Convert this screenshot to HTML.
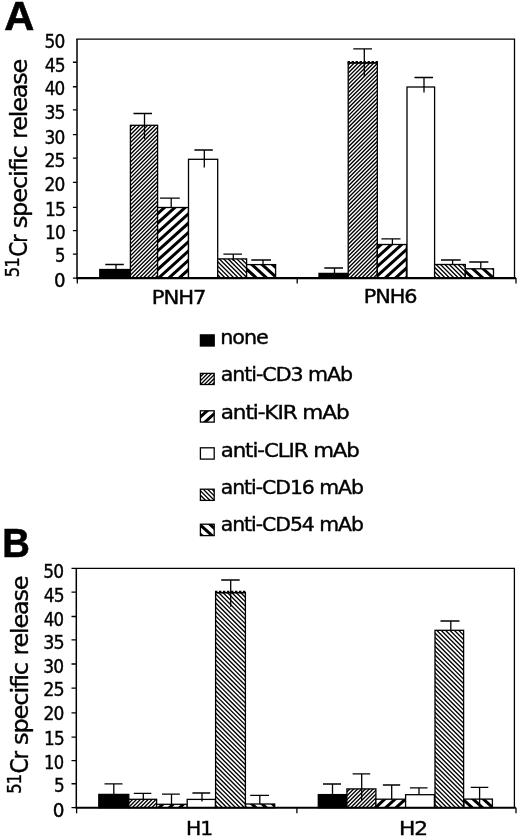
<!DOCTYPE html>
<html lang="en"><head><meta charset="utf-8"><title>Figure</title><style>html,body{margin:0;padding:0;background:#fff}svg{display:block}text{fill:#000}</style></head><body><svg width="520" height="839" viewBox="0 0 520 839"><rect width="520" height="839" fill="#fff"/><defs><clipPath id="c0"><rect x="130.40" y="125.30" width="27.20" height="152.80"/></clipPath><clipPath id="c1"><rect x="157.60" y="207.50" width="30.90" height="70.60"/></clipPath><clipPath id="c2"><rect x="217.70" y="258.90" width="28.90" height="19.20"/></clipPath><clipPath id="c3"><rect x="246.60" y="264.60" width="29.00" height="13.50"/></clipPath><clipPath id="c4"><rect x="348.20" y="62.70" width="29.10" height="215.40"/></clipPath><clipPath id="c5"><rect x="377.30" y="244.50" width="29.10" height="33.60"/></clipPath><clipPath id="c6"><rect x="434.60" y="264.50" width="30.70" height="13.60"/></clipPath><clipPath id="c7"><rect x="465.30" y="268.80" width="28.20" height="9.30"/></clipPath><clipPath id="c8"><rect x="128.80" y="799.30" width="27.80" height="8.40"/></clipPath><clipPath id="c9"><rect x="156.60" y="804.30" width="30.60" height="3.40"/></clipPath><clipPath id="c10"><rect x="215.60" y="592.50" width="29.80" height="215.20"/></clipPath><clipPath id="c11"><rect x="245.60" y="804.00" width="29.10" height="3.70"/></clipPath><clipPath id="c12"><rect x="346.90" y="788.90" width="29.00" height="18.80"/></clipPath><clipPath id="c13"><rect x="375.90" y="799.20" width="29.70" height="8.50"/></clipPath><clipPath id="c14"><rect x="435.00" y="630.30" width="28.60" height="177.40"/></clipPath><clipPath id="c15"><rect x="464.00" y="799.10" width="28.40" height="8.60"/></clipPath><clipPath id="c16"><rect x="200.40" y="373.40" width="13.80" height="11.10"/></clipPath><clipPath id="c17"><rect x="200.40" y="410.80" width="13.80" height="11.30"/></clipPath><clipPath id="c18"><rect x="200.40" y="489.20" width="13.80" height="11.20"/></clipPath><clipPath id="c19"><rect x="200.40" y="524.20" width="13.80" height="11.40"/></clipPath></defs><rect x="99.80" y="269.50" width="30.60" height="8.60" fill="#000"/><rect x="99.80" y="269.50" width="30.60" height="8.60" fill="none" stroke="#000" stroke-width="1.30"/><rect x="130.40" y="125.30" width="27.20" height="152.80" fill="#fff"/><path clip-path="url(#c0)" d="M128.40 121.20L159.60 90.00M128.40 125.10L159.60 93.90M128.40 129.00L159.60 97.80M128.40 132.90L159.60 101.70M128.40 136.80L159.60 105.60M128.40 140.70L159.60 109.50M128.40 144.60L159.60 113.40M128.40 148.50L159.60 117.30M128.40 152.40L159.60 121.20M128.40 156.30L159.60 125.10M128.40 160.20L159.60 129.00M128.40 164.10L159.60 132.90M128.40 168.00L159.60 136.80M128.40 171.90L159.60 140.70M128.40 175.80L159.60 144.60M128.40 179.70L159.60 148.50M128.40 183.60L159.60 152.40M128.40 187.50L159.60 156.30M128.40 191.40L159.60 160.20M128.40 195.30L159.60 164.10M128.40 199.20L159.60 168.00M128.40 203.10L159.60 171.90M128.40 207.00L159.60 175.80M128.40 210.90L159.60 179.70M128.40 214.80L159.60 183.60M128.40 218.70L159.60 187.50M128.40 222.60L159.60 191.40M128.40 226.50L159.60 195.30M128.40 230.40L159.60 199.20M128.40 234.30L159.60 203.10M128.40 238.20L159.60 207.00M128.40 242.10L159.60 210.90M128.40 246.00L159.60 214.80M128.40 249.90L159.60 218.70M128.40 253.80L159.60 222.60M128.40 257.70L159.60 226.50M128.40 261.60L159.60 230.40M128.40 265.50L159.60 234.30M128.40 269.40L159.60 238.20M128.40 273.30L159.60 242.10M128.40 277.20L159.60 246.00M128.40 281.10L159.60 249.90M128.40 285.00L159.60 253.80M128.40 288.90L159.60 257.70M128.40 292.80L159.60 261.60M128.40 296.70L159.60 265.50M128.40 300.60L159.60 269.40M128.40 304.50L159.60 273.30M128.40 308.40L159.60 277.20" stroke="#000" stroke-width="1.35" fill="none"/><rect x="130.40" y="125.30" width="27.20" height="152.80" fill="none" stroke="#000" stroke-width="1.30"/><rect x="157.60" y="207.50" width="30.90" height="70.60" fill="#fff"/><path clip-path="url(#c1)" d="M155.60 197.00L190.50 165.49M155.60 206.30L190.50 174.79M155.60 215.60L190.50 184.09M155.60 224.90L190.50 193.39M155.60 234.20L190.50 202.69M155.60 243.50L190.50 211.99M155.60 252.80L190.50 221.29M155.60 262.10L190.50 230.59M155.60 271.40L190.50 239.89M155.60 280.70L190.50 249.19M155.60 290.00L190.50 258.49M155.60 299.30L190.50 267.79M155.60 308.60L190.50 277.09" stroke="#000" stroke-width="3.00" fill="none"/><rect x="157.60" y="207.50" width="30.90" height="70.60" fill="none" stroke="#000" stroke-width="1.30"/><rect x="188.50" y="159.30" width="29.20" height="118.80" fill="#fff"/><rect x="188.50" y="159.30" width="29.20" height="118.80" fill="none" stroke="#000" stroke-width="1.30"/><rect x="217.70" y="258.90" width="28.90" height="19.20" fill="#fff"/><path clip-path="url(#c2)" d="M215.70 281.70L248.60 314.60M215.70 277.30L248.60 310.20M215.70 272.90L248.60 305.80M215.70 268.50L248.60 301.40M215.70 264.10L248.60 297.00M215.70 259.70L248.60 292.60M215.70 255.30L248.60 288.20M215.70 250.90L248.60 283.80M215.70 246.50L248.60 279.40M215.70 242.10L248.60 275.00M215.70 237.70L248.60 270.60M215.70 233.30L248.60 266.20M215.70 228.90L248.60 261.80M215.70 224.50L248.60 257.40" stroke="#000" stroke-width="1.35" fill="none"/><rect x="217.70" y="258.90" width="28.90" height="19.20" fill="none" stroke="#000" stroke-width="1.30"/><rect x="246.60" y="264.60" width="29.00" height="13.50" fill="#fff"/><path clip-path="url(#c3)" d="M244.60 285.95L277.60 315.75M244.60 276.65L277.60 306.45M244.60 267.35L277.60 297.15M244.60 258.05L277.60 287.85M244.60 248.75L277.60 278.55M244.60 239.45L277.60 269.25M244.60 230.15L277.60 259.95" stroke="#000" stroke-width="3.00" fill="none"/><rect x="246.60" y="264.60" width="29.00" height="13.50" fill="none" stroke="#000" stroke-width="1.30"/><rect x="319.00" y="273.40" width="29.20" height="4.70" fill="#000"/><rect x="319.00" y="273.40" width="29.20" height="4.70" fill="none" stroke="#000" stroke-width="1.30"/><rect x="348.20" y="62.70" width="29.10" height="215.40" fill="#fff"/><path clip-path="url(#c4)" d="M346.20 59.40L379.30 26.30M346.20 63.30L379.30 30.20M346.20 67.20L379.30 34.10M346.20 71.10L379.30 38.00M346.20 75.00L379.30 41.90M346.20 78.90L379.30 45.80M346.20 82.80L379.30 49.70M346.20 86.70L379.30 53.60M346.20 90.60L379.30 57.50M346.20 94.50L379.30 61.40M346.20 98.40L379.30 65.30M346.20 102.30L379.30 69.20M346.20 106.20L379.30 73.10M346.20 110.10L379.30 77.00M346.20 114.00L379.30 80.90M346.20 117.90L379.30 84.80M346.20 121.80L379.30 88.70M346.20 125.70L379.30 92.60M346.20 129.60L379.30 96.50M346.20 133.50L379.30 100.40M346.20 137.40L379.30 104.30M346.20 141.30L379.30 108.20M346.20 145.20L379.30 112.10M346.20 149.10L379.30 116.00M346.20 153.00L379.30 119.90M346.20 156.90L379.30 123.80M346.20 160.80L379.30 127.70M346.20 164.70L379.30 131.60M346.20 168.60L379.30 135.50M346.20 172.50L379.30 139.40M346.20 176.40L379.30 143.30M346.20 180.30L379.30 147.20M346.20 184.20L379.30 151.10M346.20 188.10L379.30 155.00M346.20 192.00L379.30 158.90M346.20 195.90L379.30 162.80M346.20 199.80L379.30 166.70M346.20 203.70L379.30 170.60M346.20 207.60L379.30 174.50M346.20 211.50L379.30 178.40M346.20 215.40L379.30 182.30M346.20 219.30L379.30 186.20M346.20 223.20L379.30 190.10M346.20 227.10L379.30 194.00M346.20 231.00L379.30 197.90M346.20 234.90L379.30 201.80M346.20 238.80L379.30 205.70M346.20 242.70L379.30 209.60M346.20 246.60L379.30 213.50M346.20 250.50L379.30 217.40M346.20 254.40L379.30 221.30M346.20 258.30L379.30 225.20M346.20 262.20L379.30 229.10M346.20 266.10L379.30 233.00M346.20 270.00L379.30 236.90M346.20 273.90L379.30 240.80M346.20 277.80L379.30 244.70M346.20 281.70L379.30 248.60M346.20 285.60L379.30 252.50M346.20 289.50L379.30 256.40M346.20 293.40L379.30 260.30M346.20 297.30L379.30 264.20M346.20 301.20L379.30 268.10M346.20 305.10L379.30 272.00M346.20 309.00L379.30 275.90M346.20 312.90L379.30 279.80" stroke="#000" stroke-width="1.35" fill="none"/><rect x="348.20" y="62.70" width="29.10" height="215.40" fill="none" stroke="#000" stroke-width="1.30"/><rect x="377.30" y="244.50" width="29.10" height="33.60" fill="#fff"/><path clip-path="url(#c5)" d="M375.30 231.13L408.40 201.25M375.30 240.43L408.40 210.55M375.30 249.73L408.40 219.85M375.30 259.03L408.40 229.15M375.30 268.33L408.40 238.45M375.30 277.63L408.40 247.75M375.30 286.93L408.40 257.05M375.30 296.23L408.40 266.35M375.30 305.53L408.40 275.65M375.30 314.83L408.40 284.95" stroke="#000" stroke-width="3.00" fill="none"/><rect x="377.30" y="244.50" width="29.10" height="33.60" fill="none" stroke="#000" stroke-width="1.30"/><rect x="407.00" y="87.00" width="27.60" height="191.10" fill="#fff"/><rect x="407.00" y="87.00" width="27.60" height="191.10" fill="none" stroke="#000" stroke-width="1.30"/><rect x="434.60" y="264.50" width="30.70" height="13.60" fill="#fff"/><path clip-path="url(#c6)" d="M432.60 283.00L467.30 317.70M432.60 278.60L467.30 313.30M432.60 274.20L467.30 308.90M432.60 269.80L467.30 304.50M432.60 265.40L467.30 300.10M432.60 261.00L467.30 295.70M432.60 256.60L467.30 291.30M432.60 252.20L467.30 286.90M432.60 247.80L467.30 282.50M432.60 243.40L467.30 278.10M432.60 239.00L467.30 273.70M432.60 234.60L467.30 269.30M432.60 230.20L467.30 264.90" stroke="#000" stroke-width="1.35" fill="none"/><rect x="434.60" y="264.50" width="30.70" height="13.60" fill="none" stroke="#000" stroke-width="1.30"/><rect x="465.30" y="268.80" width="28.20" height="9.30" fill="#fff"/><path clip-path="url(#c7)" d="M463.30 288.12L495.50 317.19M463.30 278.82L495.50 307.89M463.30 269.52L495.50 298.59M463.30 260.22L495.50 289.29M463.30 250.92L495.50 279.99M463.30 241.62L495.50 270.69M463.30 232.32L495.50 261.39" stroke="#000" stroke-width="3.00" fill="none"/><rect x="465.30" y="268.80" width="28.20" height="9.30" fill="none" stroke="#000" stroke-width="1.30"/><path d="M347.60 61.70H377.90" stroke="#000" stroke-width="1.3" stroke-dasharray="2.3 1.7" fill="none"/><path d="M347.60 63.10H377.90" stroke="#000" stroke-width="1.2" fill="none"/><path d="M105.30 264.50H123.80M116.00 264.50V269.50" stroke="#000" stroke-width="1.30" fill="none"/><path d="M133.50 113.50H152.00M144.50 113.50V139.00" stroke="#000" stroke-width="1.30" fill="none"/><path d="M160.00 198.20H179.80M171.20 198.20V207.50" stroke="#000" stroke-width="1.30" fill="none"/><path d="M194.40 150.00H212.80M204.30 150.00V167.50" stroke="#000" stroke-width="1.30" fill="none"/><path d="M223.40 254.20H242.00M233.30 254.20V261.00" stroke="#000" stroke-width="1.30" fill="none"/><path d="M251.30 260.00H271.00M263.00 260.00V264.60" stroke="#000" stroke-width="1.30" fill="none"/><path d="M324.30 268.00H343.00M334.50 268.00V273.20" stroke="#000" stroke-width="1.30" fill="none"/><path d="M353.30 48.80H372.00M364.30 48.80V76.00" stroke="#000" stroke-width="1.30" fill="none"/><path d="M381.40 238.80H400.50M392.40 238.80V244.50" stroke="#000" stroke-width="1.30" fill="none"/><path d="M414.50 77.50H433.00M424.00 77.50V92.50" stroke="#000" stroke-width="1.30" fill="none"/><path d="M441.00 260.00H460.70M452.60 260.00V264.50" stroke="#000" stroke-width="1.30" fill="none"/><path d="M469.20 262.00H488.40M480.80 262.00V268.80" stroke="#000" stroke-width="1.30" fill="none"/><path d="M76.30 39.10H514.50V278.10" stroke="#000" stroke-width="1.30" fill="none"/><path d="M77.00 39.10V278.10" stroke="#000" stroke-width="1.50" fill="none"/><path d="M72.90 62.25H77.00M72.90 86.74H77.00M72.90 109.85H77.00M72.90 134.60H77.00M72.90 158.20H77.00M72.90 182.30H77.00M72.90 207.30H77.00M72.90 230.70H77.00M72.90 254.10H77.00M72.90 278.10H77.00" stroke="#000" stroke-width="1.30" fill="none"/><path d="M76.30 278.10H516.00" stroke="#000" stroke-width="2.1" fill="none"/><path d="M77.30 278.10V283.60M297.20 278.10V283.60M516.00 278.10V283.60" stroke="#000" stroke-width="1.30" fill="none"/><rect x="98.80" y="794.40" width="30.00" height="13.30" fill="#000"/><rect x="98.80" y="794.40" width="30.00" height="13.30" fill="none" stroke="#000" stroke-width="1.30"/><rect x="128.80" y="799.30" width="27.80" height="8.40" fill="#fff"/><path clip-path="url(#c8)" d="M126.80 793.60L158.60 761.80M126.80 797.50L158.60 765.70M126.80 801.40L158.60 769.60M126.80 805.30L158.60 773.50M126.80 809.20L158.60 777.40M126.80 813.10L158.60 781.30M126.80 817.00L158.60 785.20M126.80 820.90L158.60 789.10M126.80 824.80L158.60 793.00M126.80 828.70L158.60 796.90M126.80 832.60L158.60 800.80M126.80 836.50L158.60 804.70M126.80 840.40L158.60 808.60" stroke="#000" stroke-width="1.35" fill="none"/><rect x="128.80" y="799.30" width="27.80" height="8.40" fill="none" stroke="#000" stroke-width="1.30"/><rect x="156.60" y="804.30" width="30.60" height="3.40" fill="#fff"/><path clip-path="url(#c9)" d="M154.60 793.11L189.20 761.87M154.60 802.41L189.20 771.17M154.60 811.71L189.20 780.47M154.60 821.01L189.20 789.77M154.60 830.31L189.20 799.07M154.60 839.61L189.20 808.37" stroke="#000" stroke-width="3.00" fill="none"/><rect x="156.60" y="804.30" width="30.60" height="3.40" fill="none" stroke="#000" stroke-width="1.30"/><rect x="187.20" y="799.40" width="28.20" height="8.30" fill="#fff"/><rect x="187.20" y="799.40" width="28.20" height="8.30" fill="none" stroke="#000" stroke-width="1.30"/><rect x="215.60" y="592.50" width="29.80" height="215.20" fill="#fff"/><path clip-path="url(#c10)" d="M213.60 812.00L247.40 845.80M213.60 807.60L247.40 841.40M213.60 803.20L247.40 837.00M213.60 798.80L247.40 832.60M213.60 794.40L247.40 828.20M213.60 790.00L247.40 823.80M213.60 785.60L247.40 819.40M213.60 781.20L247.40 815.00M213.60 776.80L247.40 810.60M213.60 772.40L247.40 806.20M213.60 768.00L247.40 801.80M213.60 763.60L247.40 797.40M213.60 759.20L247.40 793.00M213.60 754.80L247.40 788.60M213.60 750.40L247.40 784.20M213.60 746.00L247.40 779.80M213.60 741.60L247.40 775.40M213.60 737.20L247.40 771.00M213.60 732.80L247.40 766.60M213.60 728.40L247.40 762.20M213.60 724.00L247.40 757.80M213.60 719.60L247.40 753.40M213.60 715.20L247.40 749.00M213.60 710.80L247.40 744.60M213.60 706.40L247.40 740.20M213.60 702.00L247.40 735.80M213.60 697.60L247.40 731.40M213.60 693.20L247.40 727.00M213.60 688.80L247.40 722.60M213.60 684.40L247.40 718.20M213.60 680.00L247.40 713.80M213.60 675.60L247.40 709.40M213.60 671.20L247.40 705.00M213.60 666.80L247.40 700.60M213.60 662.40L247.40 696.20M213.60 658.00L247.40 691.80M213.60 653.60L247.40 687.40M213.60 649.20L247.40 683.00M213.60 644.80L247.40 678.60M213.60 640.40L247.40 674.20M213.60 636.00L247.40 669.80M213.60 631.60L247.40 665.40M213.60 627.20L247.40 661.00M213.60 622.80L247.40 656.60M213.60 618.40L247.40 652.20M213.60 614.00L247.40 647.80M213.60 609.60L247.40 643.40M213.60 605.20L247.40 639.00M213.60 600.80L247.40 634.60M213.60 596.40L247.40 630.20M213.60 592.00L247.40 625.80M213.60 587.60L247.40 621.40M213.60 583.20L247.40 617.00M213.60 578.80L247.40 612.60M213.60 574.40L247.40 608.20M213.60 570.00L247.40 603.80M213.60 565.60L247.40 599.40M213.60 561.20L247.40 595.00M213.60 556.80L247.40 590.60" stroke="#000" stroke-width="1.35" fill="none"/><rect x="215.60" y="592.50" width="29.80" height="215.20" fill="none" stroke="#000" stroke-width="1.30"/><rect x="245.60" y="804.00" width="29.10" height="3.70" fill="#fff"/><path clip-path="url(#c11)" d="M243.60 824.45L276.70 854.34M243.60 815.15L276.70 845.04M243.60 805.85L276.70 835.74M243.60 796.55L276.70 826.44M243.60 787.25L276.70 817.14M243.60 777.95L276.70 807.84M243.60 768.65L276.70 798.54" stroke="#000" stroke-width="3.00" fill="none"/><rect x="245.60" y="804.00" width="29.10" height="3.70" fill="none" stroke="#000" stroke-width="1.30"/><rect x="318.30" y="794.60" width="28.60" height="13.10" fill="#000"/><rect x="318.30" y="794.60" width="28.60" height="13.10" fill="none" stroke="#000" stroke-width="1.30"/><rect x="346.90" y="788.90" width="29.00" height="18.80" fill="#fff"/><path clip-path="url(#c12)" d="M344.90 786.10L377.90 753.10M344.90 790.00L377.90 757.00M344.90 793.90L377.90 760.90M344.90 797.80L377.90 764.80M344.90 801.70L377.90 768.70M344.90 805.60L377.90 772.60M344.90 809.50L377.90 776.50M344.90 813.40L377.90 780.40M344.90 817.30L377.90 784.30M344.90 821.20L377.90 788.20M344.90 825.10L377.90 792.10M344.90 829.00L377.90 796.00M344.90 832.90L377.90 799.90M344.90 836.80L377.90 803.80M344.90 840.70L377.90 807.70" stroke="#000" stroke-width="1.35" fill="none"/><rect x="346.90" y="788.90" width="29.00" height="18.80" fill="none" stroke="#000" stroke-width="1.30"/><rect x="375.90" y="799.20" width="29.70" height="8.50" fill="#fff"/><path clip-path="url(#c13)" d="M373.90 790.40L407.60 759.97M373.90 799.70L407.60 769.27M373.90 809.00L407.60 778.57M373.90 818.30L407.60 787.87M373.90 827.60L407.60 797.17M373.90 836.90L407.60 806.47" stroke="#000" stroke-width="3.00" fill="none"/><rect x="375.90" y="799.20" width="29.70" height="8.50" fill="none" stroke="#000" stroke-width="1.30"/><rect x="405.60" y="794.70" width="28.80" height="13.00" fill="#fff"/><rect x="405.60" y="794.70" width="28.80" height="13.00" fill="none" stroke="#000" stroke-width="1.30"/><rect x="435.00" y="630.30" width="28.60" height="177.40" fill="#fff"/><path clip-path="url(#c14)" d="M433.00 811.40L465.60 844.00M433.00 807.00L465.60 839.60M433.00 802.60L465.60 835.20M433.00 798.20L465.60 830.80M433.00 793.80L465.60 826.40M433.00 789.40L465.60 822.00M433.00 785.00L465.60 817.60M433.00 780.60L465.60 813.20M433.00 776.20L465.60 808.80M433.00 771.80L465.60 804.40M433.00 767.40L465.60 800.00M433.00 763.00L465.60 795.60M433.00 758.60L465.60 791.20M433.00 754.20L465.60 786.80M433.00 749.80L465.60 782.40M433.00 745.40L465.60 778.00M433.00 741.00L465.60 773.60M433.00 736.60L465.60 769.20M433.00 732.20L465.60 764.80M433.00 727.80L465.60 760.40M433.00 723.40L465.60 756.00M433.00 719.00L465.60 751.60M433.00 714.60L465.60 747.20M433.00 710.20L465.60 742.80M433.00 705.80L465.60 738.40M433.00 701.40L465.60 734.00M433.00 697.00L465.60 729.60M433.00 692.60L465.60 725.20M433.00 688.20L465.60 720.80M433.00 683.80L465.60 716.40M433.00 679.40L465.60 712.00M433.00 675.00L465.60 707.60M433.00 670.60L465.60 703.20M433.00 666.20L465.60 698.80M433.00 661.80L465.60 694.40M433.00 657.40L465.60 690.00M433.00 653.00L465.60 685.60M433.00 648.60L465.60 681.20M433.00 644.20L465.60 676.80M433.00 639.80L465.60 672.40M433.00 635.40L465.60 668.00M433.00 631.00L465.60 663.60M433.00 626.60L465.60 659.20M433.00 622.20L465.60 654.80M433.00 617.80L465.60 650.40M433.00 613.40L465.60 646.00M433.00 609.00L465.60 641.60M433.00 604.60L465.60 637.20M433.00 600.20L465.60 632.80M433.00 595.80L465.60 628.40" stroke="#000" stroke-width="1.35" fill="none"/><rect x="435.00" y="630.30" width="28.60" height="177.40" fill="none" stroke="#000" stroke-width="1.30"/><rect x="464.00" y="799.10" width="28.40" height="8.60" fill="#fff"/><path clip-path="url(#c15)" d="M462.00 817.05L494.40 846.30M462.00 807.75L494.40 837.00M462.00 798.45L494.40 827.70M462.00 789.15L494.40 818.40M462.00 779.85L494.40 809.10M462.00 770.55L494.40 799.80" stroke="#000" stroke-width="3.00" fill="none"/><rect x="464.00" y="799.10" width="28.40" height="8.60" fill="none" stroke="#000" stroke-width="1.30"/><path d="M215.00 591.50H246.00" stroke="#000" stroke-width="1.3" stroke-dasharray="2.3 1.7" fill="none"/><path d="M215.00 592.90H246.00" stroke="#000" stroke-width="1.2" fill="none"/><path d="M104.50 783.80H122.50M113.80 783.80V794.40" stroke="#000" stroke-width="1.30" fill="none"/><path d="M133.80 793.30H151.30M143.30 793.30V799.30" stroke="#000" stroke-width="1.30" fill="none"/><path d="M162.00 794.20H179.80M171.50 794.20V804.30" stroke="#000" stroke-width="1.30" fill="none"/><path d="M192.40 793.00H210.20M202.00 793.00V801.50" stroke="#000" stroke-width="1.30" fill="none"/><path d="M221.20 580.00H239.70M230.70 580.00V606.70" stroke="#000" stroke-width="1.30" fill="none"/><path d="M250.20 795.30H269.00M259.80 795.30V804.00" stroke="#000" stroke-width="1.30" fill="none"/><path d="M323.00 784.00H341.00M332.50 784.00V794.60" stroke="#000" stroke-width="1.30" fill="none"/><path d="M352.60 773.90H370.20M361.70 773.90V800.50" stroke="#000" stroke-width="1.30" fill="none"/><path d="M382.90 785.00H400.20M391.70 785.00V799.20" stroke="#000" stroke-width="1.30" fill="none"/><path d="M409.90 787.80H427.50M419.00 787.80V794.70" stroke="#000" stroke-width="1.30" fill="none"/><path d="M440.50 621.00H459.50M450.80 621.00V630.30" stroke="#000" stroke-width="1.30" fill="none"/><path d="M470.70 787.40H488.30M479.60 787.40V806.50" stroke="#000" stroke-width="1.30" fill="none"/><path d="M71.50 568.30H514.40V807.70" stroke="#000" stroke-width="1.30" fill="none"/><path d="M76.30 568.30V807.70" stroke="#000" stroke-width="1.50" fill="none"/><path d="M71.50 592.16H76.30M71.50 616.50H76.30M71.50 639.90H76.30M71.50 664.00H76.30M71.50 688.10H76.30M71.50 712.80H76.30M71.50 737.10H76.30M71.50 760.60H76.30M71.50 783.75H76.30M71.50 807.70H76.30" stroke="#000" stroke-width="1.30" fill="none"/><path d="M75.60 807.70H515.90" stroke="#000" stroke-width="2.1" fill="none"/><path d="M76.60 807.70V813.20M296.90 807.70V813.20M516.00 807.70V813.20" stroke="#000" stroke-width="1.30" fill="none"/><rect x="200.40" y="334.90" width="13.80" height="11.10" fill="#000"/><rect x="200.40" y="334.90" width="13.80" height="11.10" fill="none" stroke="#000" stroke-width="1.30"/><rect x="200.40" y="373.40" width="13.80" height="11.10" fill="#fff"/><path clip-path="url(#c16)" d="M198.40 371.00L216.20 353.20M198.40 374.90L216.20 357.10M198.40 378.80L216.20 361.00M198.40 382.70L216.20 364.90M198.40 386.60L216.20 368.80M198.40 390.50L216.20 372.70M198.40 394.40L216.20 376.60M198.40 398.30L216.20 380.50M198.40 402.20L216.20 384.40" stroke="#000" stroke-width="1.35" fill="none"/><rect x="200.40" y="373.40" width="13.80" height="11.10" fill="none" stroke="#000" stroke-width="1.30"/><rect x="200.40" y="410.80" width="13.80" height="11.30" fill="#fff"/><path clip-path="url(#c17)" d="M198.40 400.16L216.20 384.09M198.40 409.46L216.20 393.39M198.40 418.76L216.20 402.69M198.40 428.06L216.20 411.99M198.40 437.36L216.20 421.29" stroke="#000" stroke-width="3.00" fill="none"/><rect x="200.40" y="410.80" width="13.80" height="11.30" fill="none" stroke="#000" stroke-width="1.30"/><rect x="200.40" y="447.80" width="13.80" height="11.30" fill="#fff"/><rect x="200.40" y="447.80" width="13.80" height="11.30" fill="none" stroke="#000" stroke-width="1.30"/><rect x="200.40" y="489.20" width="13.80" height="11.20" fill="#fff"/><path clip-path="url(#c18)" d="M198.40 506.40L216.20 524.20M198.40 502.00L216.20 519.80M198.40 497.60L216.20 515.40M198.40 493.20L216.20 511.00M198.40 488.80L216.20 506.60M198.40 484.40L216.20 502.20M198.40 480.00L216.20 497.80M198.40 475.60L216.20 493.40M198.40 471.20L216.20 489.00" stroke="#000" stroke-width="1.35" fill="none"/><rect x="200.40" y="489.20" width="13.80" height="11.20" fill="none" stroke="#000" stroke-width="1.30"/><rect x="200.40" y="524.20" width="13.80" height="11.40" fill="#fff"/><path clip-path="url(#c19)" d="M198.40 551.14L216.20 567.21M198.40 541.84L216.20 557.91M198.40 532.54L216.20 548.61M198.40 523.24L216.20 539.31M198.40 513.94L216.20 530.01M198.40 504.64L216.20 520.71" stroke="#000" stroke-width="3.00" fill="none"/><rect x="200.40" y="524.20" width="13.80" height="11.40" fill="none" stroke="#000" stroke-width="1.30"/><text id="pA" font-family="'Liberation Sans','DejaVu Sans',sans-serif" font-size="39.80" font-weight="bold" stroke="#000" stroke-width="0.6" textLength="30.11" lengthAdjust="spacingAndGlyphs" x="4.15" y="29.90">A</text><text id="pB" font-family="'Liberation Sans','DejaVu Sans',sans-serif" font-size="39.80" font-weight="bold" stroke="#000" stroke-width="0.6" textLength="27.65" lengthAdjust="spacingAndGlyphs" x="2.15" y="556.60">B</text><text id="ya50" font-family="'DejaVu Sans Condensed','DejaVu Sans','Liberation Sans',sans-serif" font-size="18.60" stroke="#000" stroke-width="0.35" letter-spacing="-0.84" textLength="19.98" lengthAdjust="spacingAndGlyphs" x="44.50" y="47.60">50</text><text id="ya45" font-family="'DejaVu Sans Condensed','DejaVu Sans','Liberation Sans',sans-serif" font-size="18.60" stroke="#000" stroke-width="0.35" letter-spacing="-0.84" textLength="19.98" lengthAdjust="spacingAndGlyphs" x="44.75" y="71.60">45</text><text id="ya40" font-family="'DejaVu Sans Condensed','DejaVu Sans','Liberation Sans',sans-serif" font-size="18.60" stroke="#000" stroke-width="0.35" letter-spacing="-0.84" textLength="19.71" lengthAdjust="spacingAndGlyphs" x="44.75" y="94.90">40</text><text id="ya35" font-family="'DejaVu Sans Condensed','DejaVu Sans','Liberation Sans',sans-serif" font-size="18.60" stroke="#000" stroke-width="0.35" letter-spacing="-0.84" textLength="20.25" lengthAdjust="spacingAndGlyphs" x="44.50" y="118.70">35</text><text id="ya30" font-family="'DejaVu Sans Condensed','DejaVu Sans','Liberation Sans',sans-serif" font-size="18.60" stroke="#000" stroke-width="0.35" letter-spacing="-0.84" textLength="19.98" lengthAdjust="spacingAndGlyphs" x="44.50" y="143.60">30</text><text id="ya25" font-family="'DejaVu Sans Condensed','DejaVu Sans','Liberation Sans',sans-serif" font-size="18.60" stroke="#000" stroke-width="0.35" letter-spacing="-0.84" textLength="20.25" lengthAdjust="spacingAndGlyphs" x="44.50" y="166.60">25</text><text id="ya20" font-family="'DejaVu Sans Condensed','DejaVu Sans','Liberation Sans',sans-serif" font-size="18.60" stroke="#000" stroke-width="0.35" letter-spacing="-0.84" textLength="19.98" lengthAdjust="spacingAndGlyphs" x="44.50" y="190.90">20</text><text id="ya15" font-family="'DejaVu Sans Condensed','DejaVu Sans','Liberation Sans',sans-serif" font-size="18.60" stroke="#000" stroke-width="0.35" letter-spacing="-0.84" textLength="20.00" lengthAdjust="spacingAndGlyphs" x="45.05" y="215.60">15</text><text id="ya10" font-family="'DejaVu Sans Condensed','DejaVu Sans','Liberation Sans',sans-serif" font-size="18.60" stroke="#000" stroke-width="0.35" letter-spacing="-0.84" textLength="19.72" lengthAdjust="spacingAndGlyphs" x="45.05" y="238.90">10</text><text id="ya5" font-family="'DejaVu Sans Condensed','DejaVu Sans','Liberation Sans',sans-serif" font-size="18.60" stroke="#000" stroke-width="0.35" letter-spacing="-0.84" textLength="9.64" lengthAdjust="spacingAndGlyphs" x="55.00" y="262.30">5</text><text id="ya0" font-family="'DejaVu Sans Condensed','DejaVu Sans','Liberation Sans',sans-serif" font-size="18.60" stroke="#000" stroke-width="0.35" letter-spacing="-0.84" textLength="10.65" lengthAdjust="spacingAndGlyphs" x="53.90" y="286.70">0</text><text id="yb50" font-family="'DejaVu Sans Condensed','DejaVu Sans','Liberation Sans',sans-serif" font-size="18.60" stroke="#000" stroke-width="0.35" letter-spacing="-0.84" textLength="19.99" lengthAdjust="spacingAndGlyphs" x="43.35" y="578.00">50</text><text id="yb45" font-family="'DejaVu Sans Condensed','DejaVu Sans','Liberation Sans',sans-serif" font-size="18.60" stroke="#000" stroke-width="0.35" letter-spacing="-0.84" textLength="19.98" lengthAdjust="spacingAndGlyphs" x="43.85" y="601.80">45</text><text id="yb40" font-family="'DejaVu Sans Condensed','DejaVu Sans','Liberation Sans',sans-serif" font-size="18.60" stroke="#000" stroke-width="0.35" letter-spacing="-0.84" textLength="19.45" lengthAdjust="spacingAndGlyphs" x="43.85" y="626.00">40</text><text id="yb35" font-family="'DejaVu Sans Condensed','DejaVu Sans','Liberation Sans',sans-serif" font-size="18.60" stroke="#000" stroke-width="0.35" letter-spacing="-0.84" textLength="20.54" lengthAdjust="spacingAndGlyphs" x="43.35" y="648.60">35</text><text id="yb30" font-family="'DejaVu Sans Condensed','DejaVu Sans','Liberation Sans',sans-serif" font-size="18.60" stroke="#000" stroke-width="0.35" letter-spacing="-0.84" textLength="19.99" lengthAdjust="spacingAndGlyphs" x="43.35" y="673.25">30</text><text id="yb25" font-family="'DejaVu Sans Condensed','DejaVu Sans','Liberation Sans',sans-serif" font-size="18.60" stroke="#000" stroke-width="0.35" letter-spacing="-0.84" textLength="20.54" lengthAdjust="spacingAndGlyphs" x="43.35" y="696.45">25</text><text id="yb20" font-family="'DejaVu Sans Condensed','DejaVu Sans','Liberation Sans',sans-serif" font-size="18.60" stroke="#000" stroke-width="0.35" letter-spacing="-0.84" textLength="19.99" lengthAdjust="spacingAndGlyphs" x="43.60" y="720.30">20</text><text id="yb15" font-family="'DejaVu Sans Condensed','DejaVu Sans','Liberation Sans',sans-serif" font-size="18.60" stroke="#000" stroke-width="0.35" letter-spacing="-0.84" textLength="19.72" lengthAdjust="spacingAndGlyphs" x="44.10" y="744.95">15</text><text id="yb10" font-family="'DejaVu Sans Condensed','DejaVu Sans','Liberation Sans',sans-serif" font-size="18.60" stroke="#000" stroke-width="0.35" letter-spacing="-0.84" textLength="19.17" lengthAdjust="spacingAndGlyphs" x="44.10" y="768.70">10</text><text id="yb5" font-family="'DejaVu Sans Condensed','DejaVu Sans','Liberation Sans',sans-serif" font-size="18.60" stroke="#000" stroke-width="0.35" letter-spacing="-0.84" textLength="9.87" lengthAdjust="spacingAndGlyphs" x="54.00" y="792.10">5</text><text id="yb0" font-family="'DejaVu Sans Condensed','DejaVu Sans','Liberation Sans',sans-serif" font-size="18.60" stroke="#000" stroke-width="0.35" letter-spacing="-0.84" textLength="10.80" lengthAdjust="spacingAndGlyphs" x="52.70" y="816.70">0</text><text id="c1" font-family="'DejaVu Sans Condensed','DejaVu Sans','Liberation Sans',sans-serif" font-size="18.90" stroke="#000" stroke-width="0.35" letter-spacing="-0.85" textLength="53.67" lengthAdjust="spacingAndGlyphs" x="151.75" y="303.70">PNH7</text><text id="c2" font-family="'DejaVu Sans Condensed','DejaVu Sans','Liberation Sans',sans-serif" font-size="18.90" stroke="#000" stroke-width="0.35" letter-spacing="-0.85" textLength="52.78" lengthAdjust="spacingAndGlyphs" x="363.75" y="302.50">PNH6</text><text id="c3" font-family="'DejaVu Sans Condensed','DejaVu Sans','Liberation Sans',sans-serif" font-size="18.60" stroke="#000" stroke-width="0.35" letter-spacing="-0.84" textLength="26.13" lengthAdjust="spacingAndGlyphs" x="186.00" y="835.00">H1</text><text id="c4" font-family="'DejaVu Sans Condensed','DejaVu Sans','Liberation Sans',sans-serif" font-size="18.60" stroke="#000" stroke-width="0.35" letter-spacing="-0.84" textLength="28.01" lengthAdjust="spacingAndGlyphs" x="399.00" y="834.80">H2</text><text id="l0" font-family="'DejaVu Sans Condensed','DejaVu Sans','Liberation Sans',sans-serif" font-size="18.70" stroke="#000" stroke-width="0.35" letter-spacing="-0.84" textLength="47.50" lengthAdjust="spacingAndGlyphs" x="220.20" y="343.70">none</text><text id="l1" font-family="'DejaVu Sans Condensed','DejaVu Sans','Liberation Sans',sans-serif" font-size="18.70" stroke="#000" stroke-width="0.35" letter-spacing="-0.84" textLength="131.40" lengthAdjust="spacingAndGlyphs" x="220.70" y="381.10">anti-CD3 mAb</text><text id="l2" font-family="'DejaVu Sans Condensed','DejaVu Sans','Liberation Sans',sans-serif" font-size="18.70" stroke="#000" stroke-width="0.35" letter-spacing="-0.84" textLength="127.83" lengthAdjust="spacingAndGlyphs" x="220.70" y="418.60">anti-KIR mAb</text><text id="l3" font-family="'DejaVu Sans Condensed','DejaVu Sans','Liberation Sans',sans-serif" font-size="18.70" stroke="#000" stroke-width="0.35" letter-spacing="-0.84" textLength="138.15" lengthAdjust="spacingAndGlyphs" x="220.70" y="456.80">anti-CLIR mAb</text><text id="l4" font-family="'DejaVu Sans Condensed','DejaVu Sans','Liberation Sans',sans-serif" font-size="18.70" stroke="#000" stroke-width="0.35" letter-spacing="-0.84" textLength="142.27" lengthAdjust="spacingAndGlyphs" x="220.70" y="493.70">anti-CD16 mAb</text><text id="l5" font-family="'DejaVu Sans Condensed','DejaVu Sans','Liberation Sans',sans-serif" font-size="18.70" stroke="#000" stroke-width="0.35" letter-spacing="-0.84" textLength="142.27" lengthAdjust="spacingAndGlyphs" x="220.70" y="531.00">anti-CD54 mAb</text><text font-family="'DejaVu Sans Condensed','DejaVu Sans','Liberation Sans',sans-serif" transform="rotate(-90)"><tspan id="sa" font-size="19.00" stroke="#000" stroke-width="0.35" letter-spacing="-0.85" textLength="19.39" lengthAdjust="spacingAndGlyphs" x="-277.35" y="19.30">51</tspan><tspan id="t1a" font-size="24.80" stroke="#000" stroke-width="0.35" letter-spacing="-1.12" textLength="21.12" lengthAdjust="spacingAndGlyphs" x="-256.75" y="26.80">C<tspan font-size="23">r</tspan></tspan> <tspan id="t2a" font-size="23.00" stroke="#000" stroke-width="0.35" letter-spacing="-1.03" textLength="81.97" lengthAdjust="spacingAndGlyphs" x="-228.35" y="26.80">specific</tspan> <tspan id="t3a" font-size="23.00" stroke="#000" stroke-width="0.35" letter-spacing="-1.03" textLength="78.92" lengthAdjust="spacingAndGlyphs" x="-138.95" y="26.80">release</tspan></text><text font-family="'DejaVu Sans Condensed','DejaVu Sans','Liberation Sans',sans-serif" transform="rotate(-90)"><tspan id="sb" font-size="19.00" stroke="#000" stroke-width="0.35" letter-spacing="-0.85" textLength="19.13" lengthAdjust="spacingAndGlyphs" x="-793.75" y="20.50">51</tspan><tspan id="t1b" font-size="24.80" stroke="#000" stroke-width="0.35" letter-spacing="-1.12" textLength="21.36" lengthAdjust="spacingAndGlyphs" x="-773.40" y="28.00">C<tspan font-size="23">r</tspan></tspan> <tspan id="t2b" font-size="23.00" stroke="#000" stroke-width="0.35" letter-spacing="-1.03" textLength="81.97" lengthAdjust="spacingAndGlyphs" x="-745.00" y="28.00">specific</tspan> <tspan id="t3b" font-size="23.00" stroke="#000" stroke-width="0.35" letter-spacing="-1.03" textLength="78.88" lengthAdjust="spacingAndGlyphs" x="-655.60" y="28.00">release</tspan></text></svg></body></html>
